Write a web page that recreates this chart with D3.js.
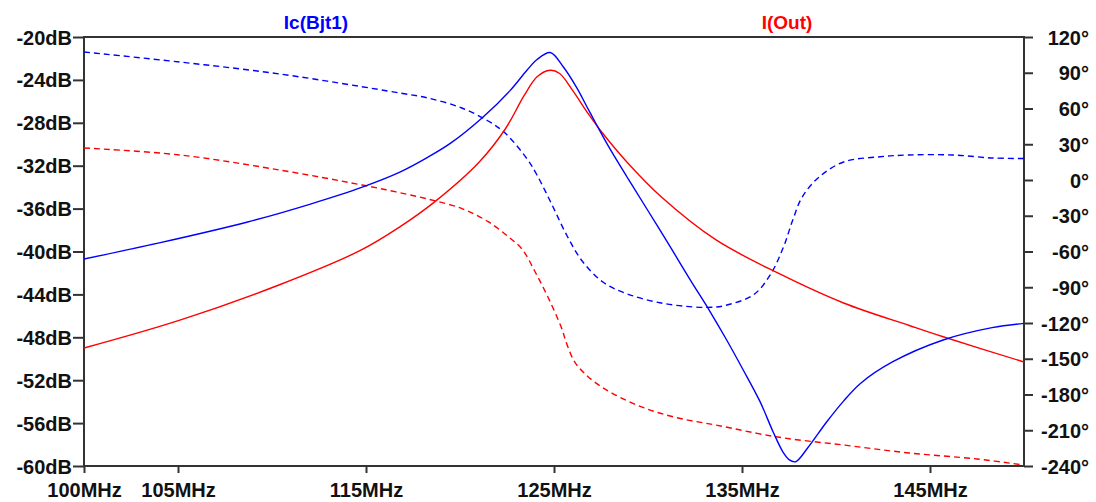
<!DOCTYPE html>
<html>
<head>
<meta charset="utf-8">
<script src="https://cdn.jsdelivr.net/npm/d3@7"></script>
<style>
  html, body { margin: 0; padding: 0; background: #ffffff; }
  svg { display: block; }
  text { font-family: "Liberation Sans", Arial, sans-serif; font-weight: bold; }
</style>
</head>
<body>
<svg id="chart" width="1096" height="502"></svg>
<script>
// ---- data ----
const freqTicks = [100, 105, 115, 125, 135, 145];            // MHz
const dbTicks = [-20, -24, -28, -32, -36, -40, -44, -48, -52, -56, -60];
const degTicks = [120, 90, 60, 30, 0, -30, -60, -90, -120, -150, -180, -210, -240];

// Ic(Bjt1) magnitude [MHz, dB]
const icMag = [[100,-40.7],[104,-39.2],[108.7,-37.25],[112,-35.6],[114.8,-34.0],[116.8,-32.6],
  [118.3,-31.2],[119.5,-29.9],[121.2,-27.5],[122.66,-25.0],[123.56,-23.1],[124.1,-22.1],
  [124.8,-21.45],[125.5,-22.8],[126.2,-24.7],[126.75,-26.5],[127.3,-28.3],[127.9,-30.2],
  [128.9,-33.1],[130.0,-36.2],[131.3,-39.9],[132.23,-42.6],[133.3,-45.6],[134.2,-48.3],
  [135.05,-51.0],[135.96,-54.0],[136.65,-56.8],[137.18,-58.7],[137.5,-59.4],[137.85,-59.6],
  [138.5,-58.3],[139.5,-55.9],[140.4,-53.95],[141.3,-52.3],[143.0,-50.3],[145.7,-48.25],
  [148.3,-47.1],[150,-46.7]];
// Ic(Bjt1) phase [MHz, deg]
const icPhase = [[100,107.4],[105.1,99.0],[110.4,89.0],[116.8,73.0],[118.3,68.8],[120.1,60.4],
  [121.5,49.5],[122.4,39.4],[123.6,17],[124.1,4],[124.9,-21],[125.7,-47],[126.5,-68],
  [127.6,-85.6],[128.9,-95.6],[130.7,-103.2],[132.5,-106.6],[133.6,-106.6],[134.2,-104.9],
  [135.6,-96.5],[136.5,-79.7],[137.2,-56.5],[137.7,-33.6],[138.2,-14.3],[139.1,2.5],[140.4,15.1],
  [142.2,19.3],[143.9,21.0],[146.2,21.0],[148.3,18.5],[150,18.0]];
// I(Out) magnitude [MHz, dB]
const outMag = [[100,-49.0],[105.1,-46.4],[110.4,-43.1],[114.7,-39.9],[116.8,-37.7],[118.7,-35.3],
  [121.0,-31.7],[122.4,-28.6],[123.4,-25.5],[124.1,-23.7],[124.8,-23.1],[125.3,-23.4],
  [126.0,-25.0],[126.8,-27.1],[127.6,-29.0],[128.9,-31.7],[130.7,-34.9],[133.6,-38.9],
  [136.9,-42.0],[140.4,-44.8],[143.9,-46.9],[145.7,-47.95],[150,-50.3]];
// I(Out) phase [MHz, deg]
const outPhase = [[100,26.9],[105.1,21.0],[110.4,8.4],[114.8,-4.2],[116.6,-10.0],[118.3,-16.0],
  [120.1,-24.0],[121.5,-35.0],[122.6,-48],[123.3,-58],[124.0,-77.2],[124.7,-99.0],[125.4,-124.2],
  [125.7,-138.5],[126.1,-152.7],[126.6,-162],[127.2,-170],[128.1,-179],[129.8,-191.3],
  [131.6,-199.7],[133.6,-205.6],[136.9,-215.7],[140.4,-222.4],[143.9,-229.1],[147.5,-234.1],
  [150,-239.2]];

const traceNames = ["Ic(Bjt1)", "I(Out)"];
const traceColors = ["#0000ff", "#ff0000"];

// ---- layout ----
const L = 84, R = 1024, T = 37, B = 466;
const svg = d3.select("#chart");
const x = d3.scaleLinear().domain([100, 150]).range([L, R]);
const yDb = d3.scaleLinear().domain([-60, -20]).range([B, T]);
const yDeg = d3.scaleLinear().domain([-240, 120]).range([B, T]);

const axisColor = "#333333";

// axes
const gx = svg.append("g").attr("transform", `translate(0,${B})`)
  .call(d3.axisBottom(x).tickValues(freqTicks).tickSize(7).tickPadding(9)
        .tickFormat(d => d + "MHz"));
const gl = svg.append("g").attr("transform", `translate(${L},0)`)
  .call(d3.axisLeft(yDb).tickValues(dbTicks).tickSize(11).tickPadding(1)
        .tickFormat(d => d + "dB"));
const gr = svg.append("g").attr("transform", `translate(${R},0)`)
  .call(d3.axisRight(yDeg).tickValues(degTicks).tickSize(9).tickPadding(0)
        .tickFormat(d => d + "°"));

[gx, gl, gr].forEach(g => {
  g.select(".domain").remove();
  g.selectAll(".tick line").attr("stroke", axisColor).attr("stroke-width", 2);
  g.selectAll(".tick text").attr("fill", "#111").style("font-size", "20px")
    .style("font-family", '"Liberation Sans", Arial, sans-serif').style("font-weight", "bold");
});
gx.selectAll(".tick text").attr("dy", null).attr("y", 31);
gr.selectAll(".tick text").attr("text-anchor", "end").attr("x", 65).attr("dy", "0.35em");
gl.selectAll(".tick text").attr("dy", "0.35em");

// frame
svg.append("rect").attr("x", L).attr("y", T).attr("width", R - L).attr("height", B - T)
  .attr("fill", "none").attr("stroke", axisColor).attr("stroke-width", 2);

// traces
const lineDb = d3.line().x(d => x(d[0])).y(d => yDb(d[1])).curve(d3.curveCatmullRom.alpha(0.5));
const lineDeg = d3.line().x(d => x(d[0])).y(d => yDeg(d[1])).curve(d3.curveCatmullRom.alpha(0.5));

const plot = svg.append("g");
plot.append("path").datum(icPhase).attr("d", lineDeg).attr("fill", "none")
  .attr("stroke", traceColors[0]).attr("stroke-width", 1.4).attr("stroke-dasharray", "6,4");
plot.append("path").datum(outPhase).attr("d", lineDeg).attr("fill", "none")
  .attr("stroke", traceColors[1]).attr("stroke-width", 1.4).attr("stroke-dasharray", "6,4");
plot.append("path").datum(outMag).attr("d", lineDb).attr("fill", "none")
  .attr("stroke", traceColors[1]).attr("stroke-width", 1.4);
plot.append("path").datum(icMag).attr("d", lineDb).attr("fill", "none")
  .attr("stroke", traceColors[0]).attr("stroke-width", 1.4);

// trace titles
const titleX = [316, 787];
svg.selectAll("text.title").data(traceNames).enter().append("text")
  .attr("class", "title").attr("x", (d, i) => titleX[i]).attr("y", 29)
  .attr("text-anchor", "middle").attr("fill", (d, i) => traceColors[i])
  .style("font-size", "19px").text(d => d);
</script>
</body>
</html>
